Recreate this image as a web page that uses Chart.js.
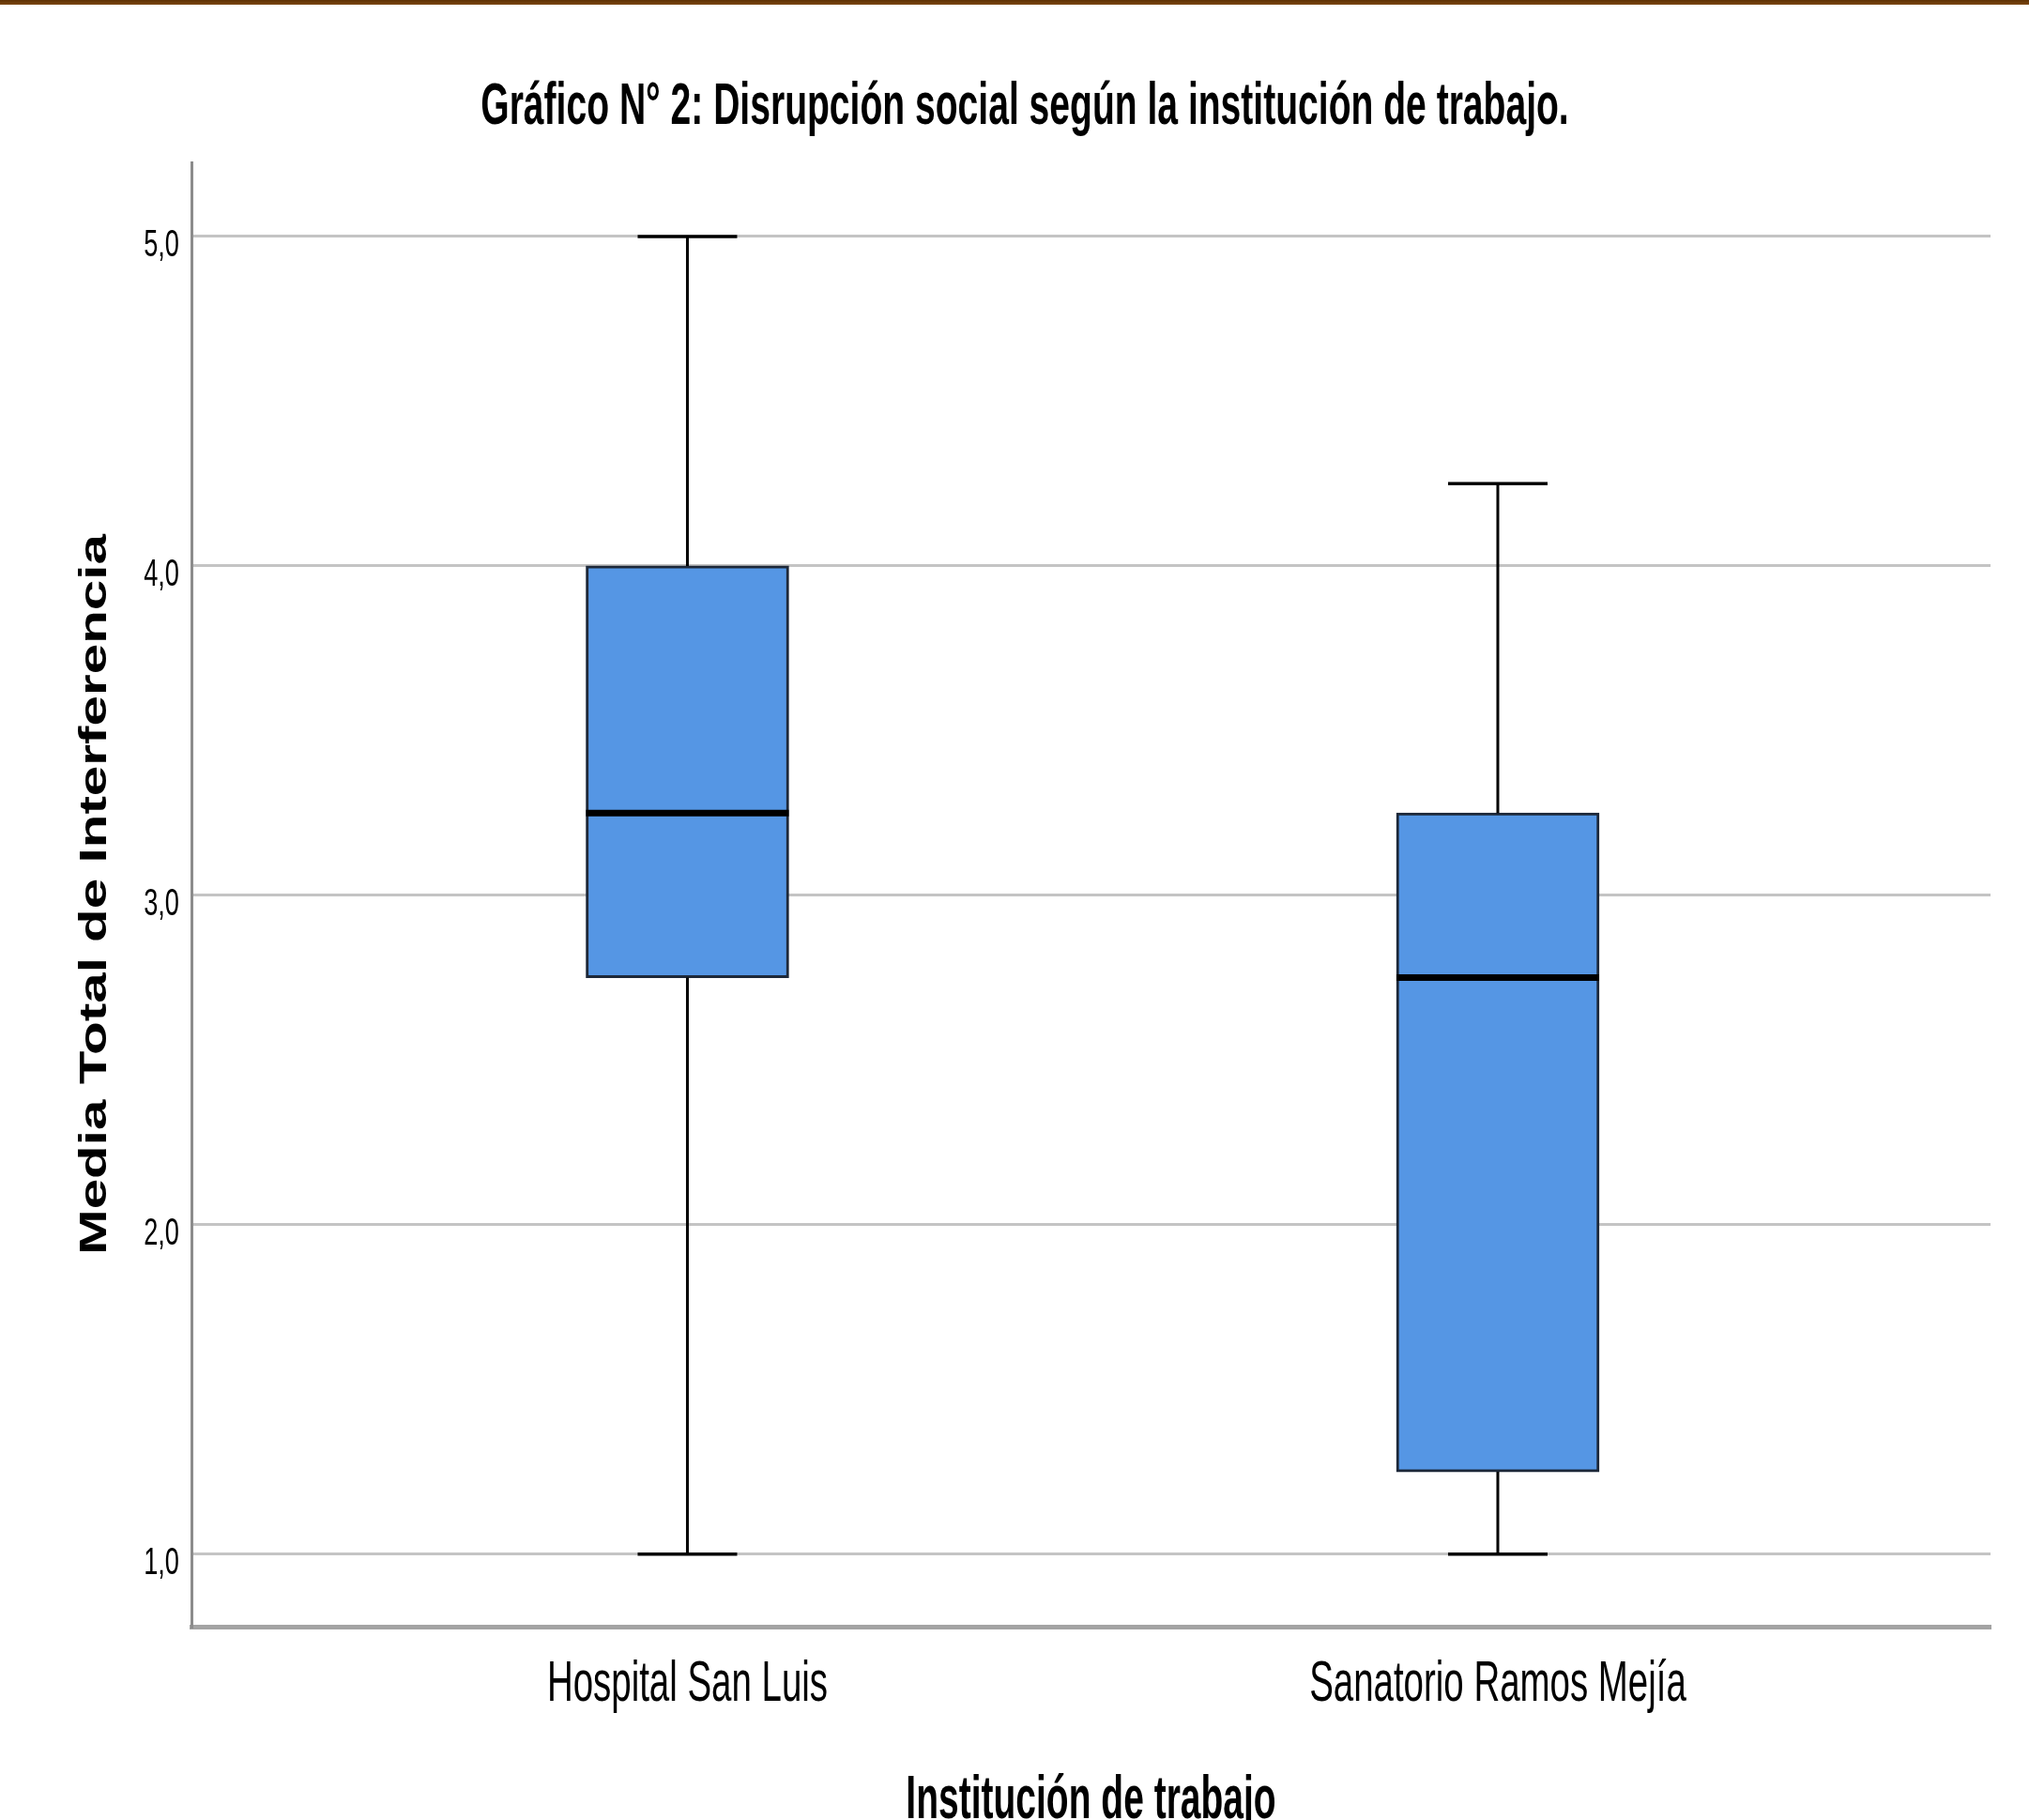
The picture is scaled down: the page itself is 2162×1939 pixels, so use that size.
<!DOCTYPE html>
<html>
<head>
<meta charset="utf-8">
<script src="https://cdn.jsdelivr.net/npm/chart.js@4.4.1/dist/chart.umd.min.js"></script>
<style>
  html, body { margin: 0; padding: 0; background: #fff; }
  #wrap { position: relative; width: 2162px; height: 1939px; overflow: hidden; }
  #topBar { position: absolute; left: 0; top: 0; width: 2162px; height: 5px;
            background: linear-gradient(#5e3104, #7a4712); z-index: 2; }
  canvas { display: block; }
</style>
</head>
<body>
<div id="wrap">
  <div id="topBar"></div>
  <canvas id="boxChart" width="2162" height="1939"></canvas>
</div>
<script>
// datos
const categories = ['Hospital San Luis', 'Sanatorio Ramos Mejía'];
const minValues    = [1.0, 1.0];
const q1Values     = [2.75, 1.25];
const medianValues = [3.25, 2.75];
const q3Values     = [4.0, 3.25];
const maxValues    = [5.0, 4.25];
const yTicks      = [1, 2, 3, 4, 5];
const yTickLabels = ['1,0', '2,0', '3,0', '4,0', '5,0'];
const chartTitle = 'Gráfico N° 2: Disrupción social según la institución de trabajo.';
const xTitle = 'Institución de trabajo';
const yTitle = 'Media Total de Interferencia';

const BOX_WIDTH = 216;
const CAP_HALF = 53;
const FONT = '"Liberation Sans", Arial, sans-serif';

// texto comprimido (el original esta estirado en vertical)
function squeezedText(ctx, text, x, y, sx, font, align) {
    ctx.save();
    ctx.font = font;
    ctx.fillStyle = '#000';
    ctx.textAlign = align;
    ctx.textBaseline = 'alphabetic';
    ctx.translate(x, y);
    ctx.scale(sx, 1);
    ctx.fillText(text, 0, 0);
    ctx.restore();
}

// bigotes, topes y medianas
const whiskerPlugin = {
    id: 'whiskers',
    afterDatasetsDraw(chart) {
        const ctx = chart.ctx;
        const xs = chart.scales.x, ys = chart.scales.y;
        ctx.save();
        categories.forEach((c, i) => {
            const px = xs.getPixelForValue(i + 1);
            ctx.strokeStyle = '#000';
            ctx.lineWidth = 3;
            ctx.beginPath();
            ctx.moveTo(px, ys.getPixelForValue(q3Values[i]));
            ctx.lineTo(px, ys.getPixelForValue(maxValues[i]));
            ctx.moveTo(px, ys.getPixelForValue(q1Values[i]));
            ctx.lineTo(px, ys.getPixelForValue(minValues[i]));
            ctx.stroke();

            ctx.lineWidth = 3.5;
            ctx.beginPath();
            [maxValues[i], minValues[i]].forEach(v => {
                const py = ys.getPixelForValue(v);
                ctx.moveTo(px - CAP_HALF, py);
                ctx.lineTo(px + CAP_HALF, py);
            });
            ctx.stroke();

            ctx.lineWidth = 7;
            ctx.beginPath();
            const pm = ys.getPixelForValue(medianValues[i]);
            ctx.moveTo(px - BOX_WIDTH / 2, pm);
            ctx.lineTo(px + BOX_WIDTH / 2, pm);
            ctx.stroke();
        });
        ctx.restore();
    }
};

// titulos y etiquetas
const labelsPlugin = {
    id: 'labels',
    afterDraw(chart) {
        const ctx = chart.ctx;
        const xs = chart.scales.x, ys = chart.scales.y;
        const area = chart.chartArea;

        squeezedText(ctx, chartTitle, 1092, 132, 0.62, 'bold 63px ' + FONT, 'center');

        yTicks.forEach((v, i) => {
            squeezedText(ctx, yTickLabels[i], area.left - 13, ys.getPixelForValue(v) + 21,
                0.68, '40px ' + FONT, 'right');
        });

        categories.forEach((c, i) => {
            squeezedText(ctx, c, xs.getPixelForValue(i + 1), 1812, 0.62, '62px ' + FONT, 'center');
        });

        squeezedText(ctx, xTitle, (area.left + area.right) / 2, 1937, 0.6, 'bold 65px ' + FONT, 'center');

        ctx.save();
        ctx.font = 'bold 40px ' + FONT;
        ctx.fillStyle = '#000';
        ctx.textAlign = 'center';
        ctx.textBaseline = 'alphabetic';
        ctx.translate(113, (area.top + area.bottom) / 2);
        ctx.rotate(-Math.PI / 2);
        ctx.scale(1.46, 1);
        ctx.fillText(yTitle, 0, 0);
        ctx.restore();
    }
};

new Chart(document.getElementById('boxChart'), {
    type: 'bar',
    data: {
        datasets: [{
            data: categories.map((c, i) => ({ x: i + 1, y: [q1Values[i], q3Values[i]] })),
            backgroundColor: '#5596e4',
            borderColor: '#1d2839',
            borderWidth: 3,
            borderSkipped: false,
            barThickness: BOX_WIDTH
        }]
    },
    options: {
        responsive: false,
        animation: false,
        devicePixelRatio: 1,
        layout: { padding: { left: 204, right: 41, top: 173, bottom: 206 } },
        plugins: { legend: { display: false }, tooltip: { enabled: false }, title: { display: false } },
        scales: {
            x: {
                type: 'linear',
                offset: false,
                min: 0.388,
                max: 2.608,
                grid: { display: false, drawTicks: false, offset: false },
                border: { display: true, color: '#a4a4a4', width: 5 },
                ticks: { display: false }
            },
            y: {
                min: 0.78,
                max: 5.225,
                afterBuildTicks: axis => { axis.ticks = yTicks.map(v => ({ value: v })); },
                grid: { color: '#c4c4c4', lineWidth: 3, drawTicks: false, tickLength: 0 },
                border: { display: true, color: '#8c8c8c', width: 3 },
                ticks: { display: false }
            }
        }
    },
    plugins: [whiskerPlugin, labelsPlugin]
});
</script>
</body>
</html>
